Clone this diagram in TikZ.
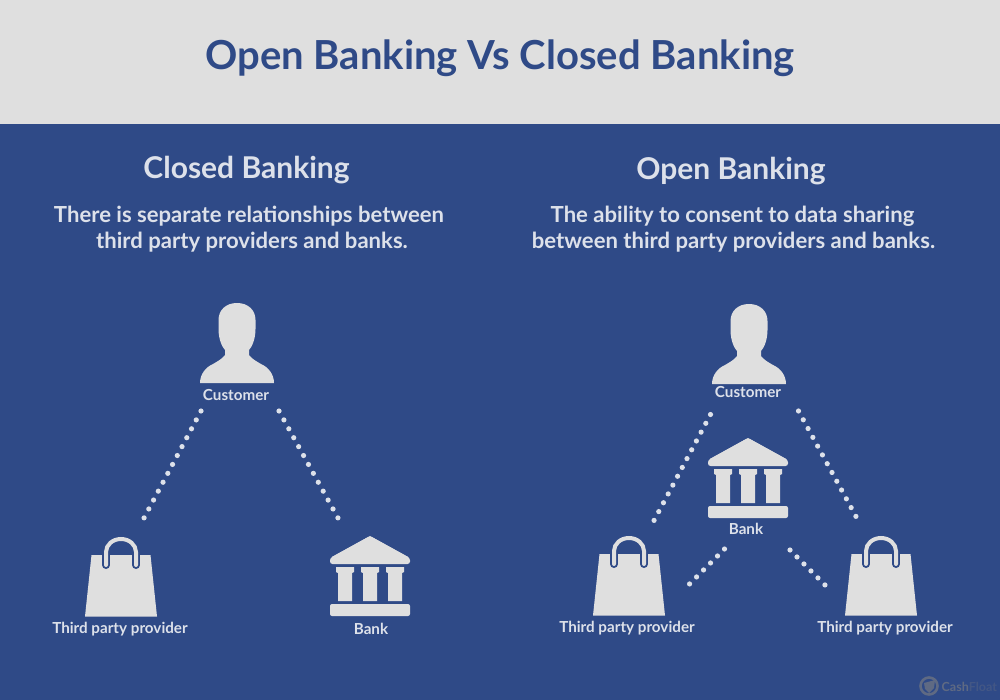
\documentclass[tikz,border=0pt]{standalone}
\usepackage{fontspec}
\setmainfont{Lato}
\definecolor{navy}{HTML}{2F4A87}
\definecolor{paper}{HTML}{DFDFDF}
\definecolor{ink}{HTML}{DDE1EA}
\tikzset{
  x=1pt,y=-1pt,
  dotline/.style={draw=ink,line width=5.2pt,line cap=round,dash pattern=on 0pt off #1pt},
  heading/.style={text=ink,font=\fontsize{30}{35}\selectfont\bfseries,anchor=base},
  para/.style={text=ink,font=\fontsize{22.1}{26}\selectfont\bfseries,align=center,anchor=north},
  caption/.style={text=ink,font=\fontsize{15.2}{18}\selectfont\bfseries,anchor=base},
  person/.pic={
    \fill[paper] (0,0) .. controls (-11,0) and (-18.5,7) .. (-18.5,17)
      -- (-18.5,26) .. controls (-18.5,36) and (-15,44) .. (-12,47)
      -- (-12,52) .. controls (-15,56) and (-19,58) .. (-24,61)
      .. controls (-31,64) and (-37,71) .. (-37,80)
      -- (37,80) .. controls (37,71) and (31,64) .. (24,61)
      .. controls (19,58) and (15,56) .. (12,52)
      -- (12,47) .. controls (15,44) and (18.5,36) .. (18.5,26)
      -- (18.5,17) .. controls (18.5,7) and (11,0) .. (0,0) -- cycle;
  },
  bag/.pic={
    \fill[paper] (-29.5,18) -- (29.5,18) -- (36,79.5) -- (-36,79.5) -- cycle;
    \draw[navy,line width=8pt,line cap=round] (-15,18) -- (-15,28);
    \draw[navy,line width=8pt,line cap=round] (15,18) -- (15,28);
    \draw[paper,line width=4pt,line cap=round] (-15,28) -- (-15,15) arc[start angle=180,end angle=360,x radius=15,y radius=13] -- (15,28);
  },
  bank/.pic={
    \fill[paper,rounded corners=2.5pt] (-40,28) -- (-40,22) -- (0,0) -- (40,22) -- (40,28) -- cycle;
    \fill[paper] (0,0) -- (-38,21) -- (38,21) -- cycle;
    \foreach \c in {-25,0,25}{
      \fill[paper] ([xshift=\c pt]-9,31) -- ([xshift=\c pt]9,31) -- ([xshift=\c pt]9,36)
        -- ([xshift=\c pt]7,37) -- ([xshift=\c pt]7,65) -- ([xshift=\c pt]-7,65)
        -- ([xshift=\c pt]-7,37) -- ([xshift=\c pt]-9,36) -- cycle;
    }
    \fill[paper,rounded corners=2pt] (-40,68) rectangle (40,80);
  },
}
\begin{document}
\begin{tikzpicture}
\useasboundingbox (0,0) rectangle (1000,700);
\fill[navy] (0,0) rectangle (1000,700);
\fill[paper] (0,0) rectangle (1000,124.5);

\node[text=navy,font=\fontsize{40}{46}\selectfont\bfseries,anchor=base] (title) at (500,70) {Open Banking Vs Closed Banking};

\node[heading] (closedhead) at (246.5,178.5) {Closed Banking};
\node[para] (closedtext) at (249,203) {There is separate relationships between\\\hspace*{6pt}third party providers and banks.};
\node[heading] (openhead) at (731,179.5) {Open Banking};
\node[para] (opentext) at (733.5,203) {The ability to consent to data sharing\hspace*{2pt}\\between third party providers and banks.};

% closed banking
\pic at (237,303) {person};
\node[caption] (ccust) at (236,400) {Customer};
\pic at (121,537) {bag};
\node[caption] (ctpp) at (120,633.5) {Third party provider};
\pic at (370,536) {bank};
\node[caption] (cbank) at (371,634) {Bank};

\coordinate (c1a) at (201,411); \coordinate (c1b) at (144,518);
\coordinate (c2a) at (279,411); \coordinate (c2b) at (338,518);
\draw[dotline=10.09] (c1a) -- (c1b);
\draw[dotline=10.17] (c2a) -- (c2b);

% open banking
\pic at (749,304) {person};
\node[caption] (ocust) at (748,397) {Customer};
\pic at (748,438) {bank};
\node[caption] (obank) at (746,534) {Bank};
\pic at (629,536) {bag};
\node[caption] (otpp1) at (627,632) {Third party provider};
\pic at (881,536) {bag};
\node[caption] (otpp2) at (885,632) {Third party provider};

\coordinate (o1a) at (710.5,414.5); \coordinate (o1b) at (654,520.5);
\coordinate (o2a) at (798.5,411); \coordinate (o2b) at (856,516.5);
\coordinate (o3a) at (724.5,549); \coordinate (o3b) at (689.5,584);
\coordinate (o4a) at (790,550); \coordinate (o4b) at (825,585);
\draw[dotline=10] (o1a) -- (o1b);
\draw[dotline=10] (o2a) -- (o2b);
\draw[dotline=9.88] (o3a) -- (o3b);
\draw[dotline=9.88] (o4a) -- (o4b);

% watermark
\draw[gray!60!navy,line width=2.6pt] (929,686) circle[radius=8.5];
\fill[gray!60!navy] (924,683) -- (935,680) -- (934,688) -- (929,693) -- (925,689) -- cycle;
\node[anchor=base west,inner sep=0pt,font=\fontsize{12.5}{14}\selectfont\bfseries] (mark) at (941.5,691) {\textcolor{gray!60!navy}{Cash}\textcolor{gray!25!navy}{Float}};
\end{tikzpicture}
\end{document}
